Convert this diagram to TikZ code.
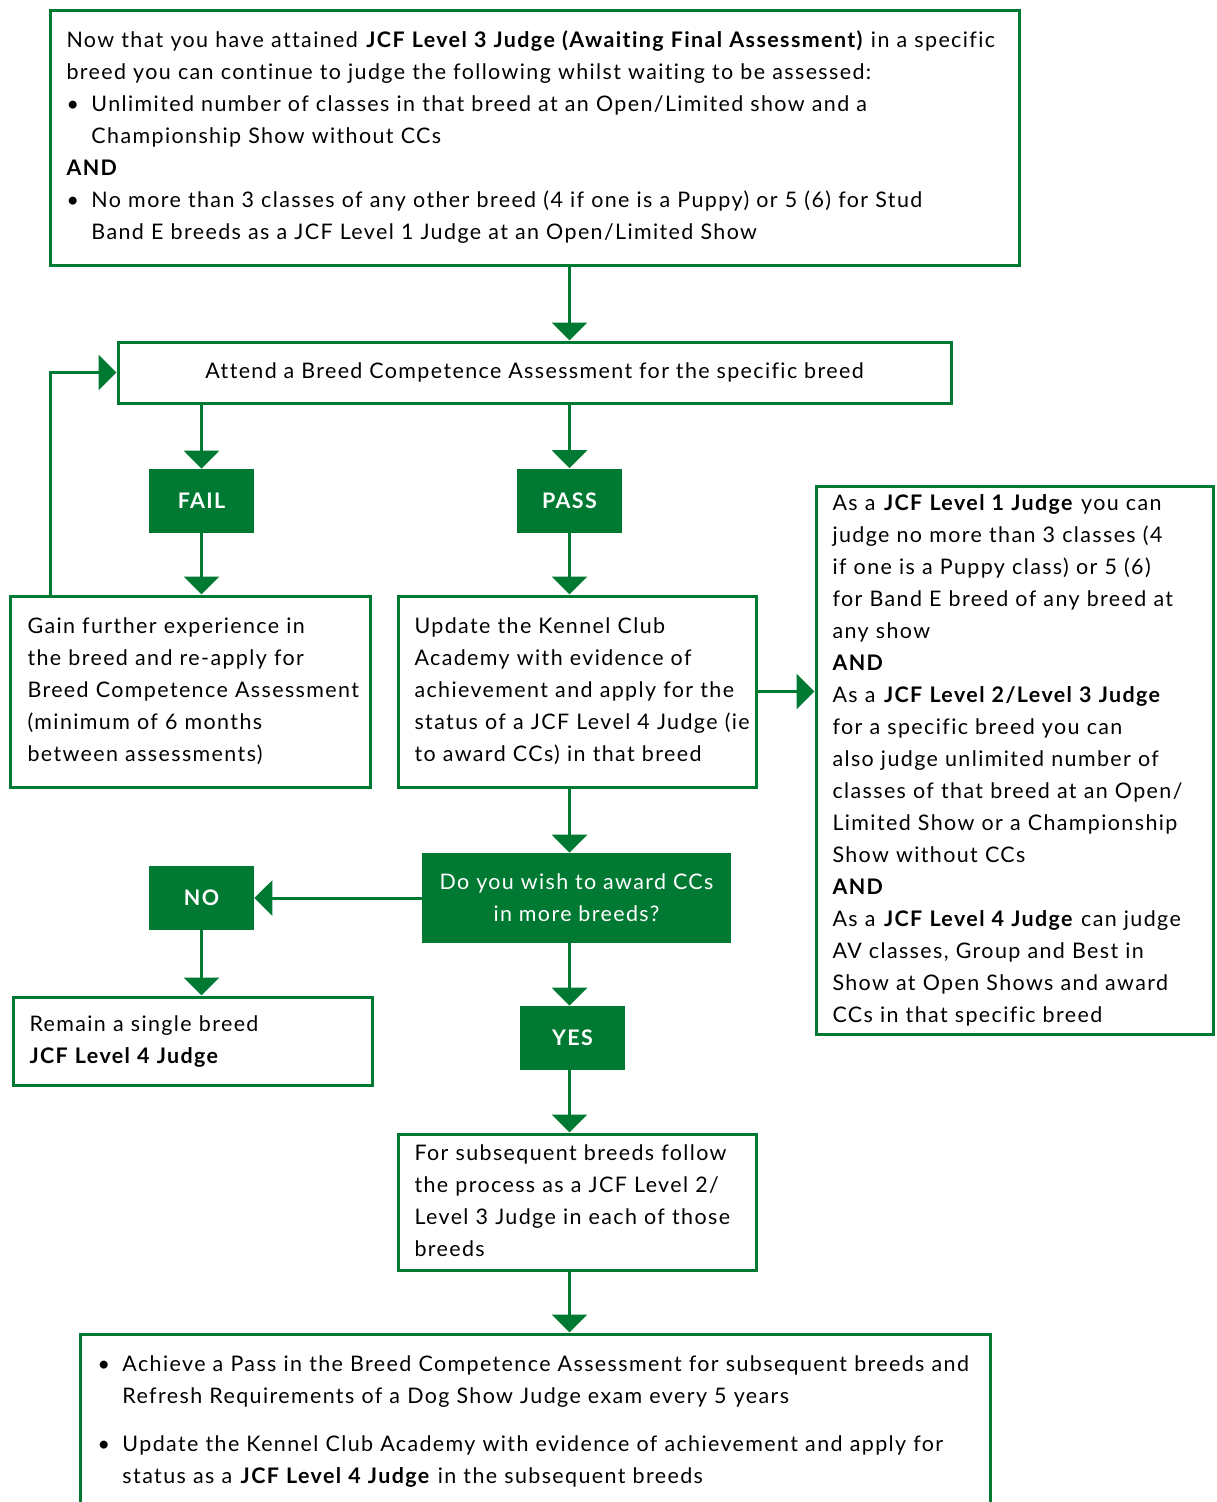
\documentclass[tikz,border=0pt]{standalone}
\usepackage{fontspec}
\setmainfont{Lato}[LetterSpace=6.5, Ligatures=NoCommon]
\usetikzlibrary{arrows.meta}
\definecolor{kcgreen}{HTML}{007A33}
\newcommand{\bul}{\makebox[0.5cm][l]{\textbullet}}
\newcommand{\ind}{\hspace*{0.5cm}}
\newcommand{\lines}[1]{\begin{tabular}{@{}l@{}}#1\end{tabular}}
\begin{document}
\begin{tikzpicture}[>={Triangle[width=0.7cm,length=0.36cm]},
    box/.style={draw=kcgreen, line width=0.06cm, align=left, inner xsep=0.33cm, inner ysep=0pt,
        font=\fontsize{12.2}{18.2}\selectfont},
    tag/.style={fill=kcgreen, text=white, minimum width=2.1cm, minimum height=1.28cm, inner sep=0pt,
        font=\fontsize{12.2}{18.2}\selectfont\bfseries},
    link/.style={->, draw=kcgreen, line width=0.06cm}]
\useasboundingbox (0,0) rectangle (24.32,-30.04);

\node[box, text width=18.72cm, minimum height=5.1cm] (start) at (10.69,-2.75)
    {\lines{Now that you have attained \textbf{JCF Level 3 Judge (Awaiting Final Assessment)} in a specific\\
     breed you can continue to judge the following whilst waiting to be assessed:\\
     \bul Unlimited number of classes in that breed at an Open/Limited show and a\\
     \ind Championship Show without CCs\\
     \textbf{AND}\\
     \bul No more than 3 classes of any other breed (4 if one is a Puppy) or 5 (6) for Stud\\
     \ind Band E breeds as a JCF Level 1 Judge at an Open/Limited Show}};
\node[box, align=center, minimum width=16.66cm, minimum height=1.22cm] (attend) at (10.69,-7.45)
    {Attend a Breed Competence Assessment for the specific breed};

\node[tag] (fail) at (4.03,-10.02) {FAIL};
\node[tag] (pass) at (11.39,-10.01) {PASS};

\node[box, text width=6.52cm, minimum height=3.82cm] (gain) at (3.81,-13.83)
    {\lines{Gain further experience in\\ the breed and re-apply for\\ Breed Competence Assessment\\
     (minimum of 6 months\\ between assessments)}};
\node[box, text width=6.5cm, minimum height=3.82cm] (update) at (11.54,-13.83)
    {\lines{Update the Kennel Club\\ Academy with evidence of\\ achievement and apply for the\\
     status of a JCF Level 4 Judge (ie\\ to award CCs) in that breed}};
\node[box, text width=7.28cm, minimum height=10.96cm] (levels) at (20.29,-15.2)
    {\lines{As a \textbf{JCF Level 1 Judge} you can\\
     judge no more than 3 classes (4\\
     if one is a Puppy class) or 5 (6)\\
     for Band E breed of any breed at\\
     any show\\
     \textbf{AND}\\
     As a \textbf{JCF Level 2/Level 3 Judge}\\
     for a specific breed you can\\
     also judge unlimited number of\\
     classes of that breed at an Open/\\
     Limited Show or a Championship\\
     Show without CCs\\
     \textbf{AND}\\
     As a \textbf{JCF Level 4 Judge} can judge\\
     AV classes, Group and Best in\\
     Show at Open Shows and award\\
     CCs in that specific breed}};

\node[tag, font=\fontsize{12.2}{18.2}\selectfont, align=center, minimum width=6.18cm, minimum height=1.8cm] (ask) at (11.53,-17.96)
    {Do you wish to award CCs\\ in more breeds?};
\node[tag] (no) at (4.03,-17.96) {NO};
\node[box, text width=6.52cm, minimum height=1.76cm] (remain) at (3.85,-20.82)
    {\lines{Remain a single breed\\ \textbf{JCF Level 4 Judge}}};
\node[tag] (yes) at (11.45,-20.76) {YES};
\node[box, text width=6.5cm, minimum height=2.72cm] (next) at (11.54,-24.04)
    {\lines{For subsequent breeds follow\\ the process as a JCF Level 2/\\ Level 3 Judge in each of those\\ breeds}};
\node[box, inner xsep=0.35cm, text width=17.5cm, minimum height=3.48cm] (final) at (10.7,-28.42)
    {\lines{\bul Achieve a Pass in the Breed Competence Assessment for subsequent breeds and\\
     \ind Refresh Requirements of a Dog Show Judge exam every 5 years\\[0.32cm]
     \bul Update the Kennel Club Academy with evidence of achievement and apply for\\
     \ind status as a \textbf{JCF Level 4 Judge} in the subsequent breeds}};

\coordinate (back) at (1.0,-11.92);

\draw[link] (start.south -| pass) -- (attend.north -| pass);
\draw[link] (attend.south -| fail) -- (fail);
\draw[link] (attend.south -| pass) -- (pass);
\draw[link] (fail) -- (fail |- gain.north);
\draw[link] (pass) -- (pass |- update.north);
\draw[link] (back) |- (attend.west);
\draw[link] (update.east) -- (update.east -| levels.west);
\draw[link] (update.south -| pass) -- (ask.north -| pass);
\draw[link] (ask) -- (no);
\draw[link] (no) -- (no |- remain.north);
\draw[link] (ask.south -| pass) -- (yes.north -| pass);
\draw[link] (yes.south -| pass) -- (next.north -| pass);
\draw[link] (next.south -| pass) -- (final.north -| pass);
\end{tikzpicture}
\end{document}
